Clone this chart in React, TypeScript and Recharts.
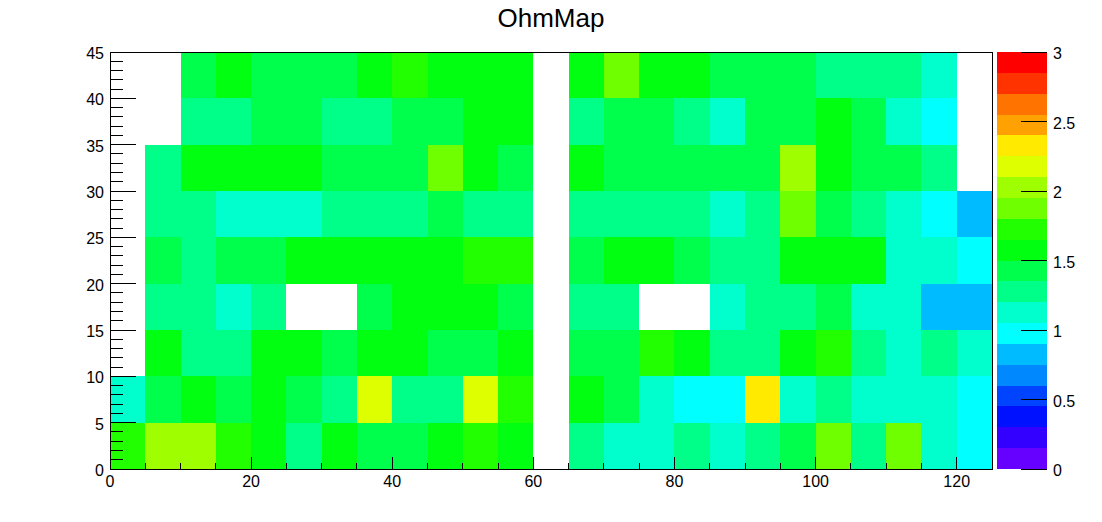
import React from 'react';
import { ScatterChart, Scatter, XAxis, YAxis, ReferenceArea } from 'recharts';

const FONT = '"Liberation Sans", Arial, Helvetica, sans-serif';

// bin low edges (each bin is 5 wide)
const xBins = [0, 5, 10, 15, 20, 25, 30, 35, 40, 45, 50, 55, 60, 65, 70, 75, 80, 85, 90, 95, 100, 105, 110, 115, 120];
const yBins = [0, 5, 10, 15, 20, 25, 30, 35, 40];
const binSize = 5;

// resistance per bin, one row per y bin (bottom row first); null = empty bin
const ohmY0 = [1.72, 2.02, 2.02, 1.72, 1.57, 1.27, 1.57, 1.42, 1.42, 1.57, 1.72, 1.57, null, 1.27, 1.12, 1.12, 1.27, 1.12, 1.27, 1.42, 1.87, 1.27, 1.87, 1.12, 0.97];
const ohmY5 = [1.12, 1.42, 1.57, 1.42, 1.57, 1.42, 1.27, 2.17, 1.27, 1.27, 2.17, 1.72, null, 1.57, 1.42, 1.12, 0.97, 0.97, 2.32, 1.12, 1.27, 1.12, 1.12, 1.12, 0.97];
const ohmY10 = [null, 1.57, 1.27, 1.27, 1.57, 1.57, 1.42, 1.57, 1.57, 1.42, 1.42, 1.57, null, 1.42, 1.42, 1.72, 1.57, 1.27, 1.27, 1.57, 1.72, 1.27, 1.12, 1.27, 1.12];
const ohmY15 = [null, 1.27, 1.27, 1.12, 1.27, null, null, 1.42, 1.57, 1.57, 1.57, 1.42, null, 1.27, 1.27, null, null, 1.12, 1.27, 1.27, 1.42, 1.12, 1.12, 0.82, 0.82];
const ohmY20 = [null, 1.42, 1.27, 1.42, 1.42, 1.57, 1.57, 1.57, 1.57, 1.57, 1.72, 1.72, null, 1.42, 1.57, 1.57, 1.42, 1.27, 1.27, 1.57, 1.57, 1.57, 1.12, 1.12, 0.97];
const ohmY25 = [null, 1.27, 1.27, 1.12, 1.12, 1.12, 1.27, 1.27, 1.27, 1.42, 1.27, 1.27, null, 1.27, 1.27, 1.27, 1.27, 1.12, 1.27, 1.87, 1.42, 1.27, 1.12, 0.97, 0.82];
const ohmY30 = [null, 1.27, 1.57, 1.57, 1.57, 1.57, 1.42, 1.42, 1.42, 1.87, 1.57, 1.42, null, 1.57, 1.42, 1.42, 1.42, 1.42, 1.42, 2.02, 1.57, 1.42, 1.42, 1.27, null];
const ohmY35 = [null, null, 1.27, 1.27, 1.42, 1.42, 1.27, 1.27, 1.42, 1.42, 1.57, 1.57, null, 1.27, 1.42, 1.42, 1.27, 1.12, 1.42, 1.42, 1.57, 1.42, 1.12, 0.97, null];
const ohmY40 = [null, null, 1.42, 1.57, 1.42, 1.42, 1.42, 1.57, 1.72, 1.57, 1.57, 1.57, null, 1.57, 1.87, 1.57, 1.57, 1.42, 1.42, 1.42, 1.27, 1.27, 1.27, 1.12, null];
const ohmRows = [ohmY0, ohmY5, ohmY10, ohmY15, ohmY20, ohmY25, ohmY30, ohmY35, ohmY40];

// colour scale: 20 contour levels from 0 to 3
const zLevels = [0, 0.15, 0.3, 0.45, 0.6, 0.75, 0.9, 1.05, 1.2, 1.35, 1.5, 1.65, 1.8, 1.95, 2.1, 2.25, 2.4, 2.55, 2.7, 2.85, 3.0];
const palette = [
  '#6600ff', '#3300ff', '#0011ff', '#0044ff', '#0088ff', '#00bbff', '#00ffff', '#00ffcc', '#00ff88', '#00ff4c',
  '#00ff11', '#22ff00', '#6fff00', '#9fff00', '#ddff00', '#ffea00', '#ffa100', '#ff7400', '#ff3300', '#ff0000',
];

const xTicks = [0, 5, 10, 15, 20, 25, 30, 35, 40, 45, 50, 55, 60, 65, 70, 75, 80, 85, 90, 95, 100, 105, 110, 115, 120, 125];
const yTicks = [0, 1, 2, 3, 4, 5, 6, 7, 8, 9, 10, 11, 12, 13, 14, 15, 16, 17, 18, 19, 20, 21, 22, 23, 24, 25, 26, 27, 28, 29, 30, 31, 32, 33, 34, 35, 36, 37, 38, 39, 40, 41, 42, 43, 44, 45];
const zTicks = [0, 0.5, 1, 1.5, 2, 2.5, 3];

const colorFor = (v: number) => {
  let k = zLevels.findIndex((lvl, i) => v >= lvl && v < zLevels[i + 1]);
  if (k < 0) k = v >= 3 ? palette.length - 1 : 0;
  return palette[k];
};

const cells = ohmRows.flatMap((row, j) =>
  row
    .map((v, i) => ({ x0: xBins[i], y0: yBins[j], v }))
    .filter((c) => c.v !== null)
    .map((c) => ({ ...c, cx: c.x0 + binSize / 2, cy: c.y0 + binSize / 2 }))
);

const bands = palette.map((col, k) => ({ col, lo: zLevels[k], hi: zLevels[k + 1], x: 0.5, y: (zLevels[k] + zLevels[k + 1]) / 2 }));

const cellShape = (fill: string) => (p: any) => (
  <rect x={p.x} y={p.y} width={p.width} height={p.height} fill={fill} stroke="none" shapeRendering="crispEdges" />
);

const frameShape = (p: any) => (
  <rect x={p.x} y={p.y} width={p.width} height={p.height} fill="none" stroke="#000" strokeWidth={1} shapeRendering="crispEdges" />
);

const XTick = (props: any) => {
  const { x, y, payload } = props;
  const major = payload.value % 20 === 0;
  return (
    <g>
      <line x1={x} y1={y} x2={x} y2={y - (major ? 12 : 6)} stroke="#000" shapeRendering="crispEdges" />
      {major && (
        <text x={x} y={y + 18} textAnchor="middle" fontSize={16} fill="#000" fontFamily={FONT}>
          {payload.value}
        </text>
      )}
    </g>
  );
};

const YTick = (props: any) => {
  const { x, y, payload } = props;
  const major = payload.value % 5 === 0;
  return (
    <g>
      <line x1={x} y1={y} x2={x + (major ? 26 : 13)} y2={y} stroke="#000" shapeRendering="crispEdges" />
      {major && (
        <text x={x - 6} y={y + 7} textAnchor="end" fontSize={16} fill="#000" fontFamily={FONT}>
          {payload.value}
        </text>
      )}
    </g>
  );
};

const ZTick = (props: any) => {
  const { x, y, payload } = props;
  return (
    <g>
      <line x1={x - 26} y1={y} x2={x} y2={y} stroke="#000" shapeRendering="crispEdges" />
      <text x={x + 6} y={y + 7} textAnchor="start" fontSize={16} fill="#000" fontFamily={FONT}>
        {payload.value}
      </text>
    </g>
  );
};

export default function App() {
  return (
    <div style={{ position: 'absolute', left: 0, top: 0, width: 1102, height: 522, background: '#fff', fontFamily: FONT }}>
      <div style={{ position: 'absolute', left: 0, top: 5, width: 1102, textAlign: 'center', fontSize: 26, lineHeight: '26px', color: '#000' }}>
        OhmMap
      </div>

      {/* main 2D histogram */}
      <div style={{ position: 'absolute', left: 0, top: 0 }}>
        <ScatterChart width={1102} height={522} margin={{ top: 52, right: 110, bottom: 0, left: 0 }}>
          {cells.map((c, idx) => (
            <ReferenceArea
              key={idx}
              x1={c.x0}
              x2={c.x0 + binSize}
              y1={c.y0}
              y2={c.y0 + binSize}
              fill={colorFor(c.v as number)}
              fillOpacity={1}
              shape={cellShape(colorFor(c.v as number))}
            />
          ))}
          <Scatter data={cells} dataKey="cy" shape={() => <g />} isAnimationActive={false} />
          <ReferenceArea x1={0} x2={125} y1={0} y2={45} shape={frameShape} />
          <XAxis
            type="number"
            dataKey="cx"
            domain={[0, 125]}
            ticks={xTicks}
            interval={0}
            height={53}
            axisLine={false}
            tickLine={false}
            tickSize={0}
            tickMargin={0}
            tick={<XTick />}
            allowDataOverflow
          />
          <YAxis
            type="number"
            dataKey="cy"
            domain={[0, 45]}
            ticks={yTicks}
            interval={0}
            width={110}
            axisLine={false}
            tickLine={false}
            tickSize={0}
            tickMargin={0}
            tick={<YTick />}
            allowDataOverflow
          />
        </ScatterChart>
      </div>

      {/* colour palette axis */}
      <div style={{ position: 'absolute', left: 997, top: 0 }}>
        <ScatterChart width={105} height={522} margin={{ top: 52, right: 0, bottom: 53, left: 0 }}>
          {bands.map((b, k) => (
            <ReferenceArea
              key={k}
              x1={0}
              x2={1}
              y1={b.lo}
              y2={b.hi}
              fill={b.col}
              fillOpacity={1}
              shape={cellShape(b.col)}
            />
          ))}
          <Scatter data={bands} dataKey="y" shape={() => <g />} isAnimationActive={false} />
          <XAxis type="number" dataKey="x" domain={[0, 1]} hide allowDataOverflow />
          <YAxis
            type="number"
            dataKey="y"
            orientation="right"
            domain={[0, 3]}
            ticks={zTicks}
            interval={0}
            width={55}
            axisLine={false}
            tickLine={false}
            tickSize={0}
            tickMargin={0}
            tick={<ZTick />}
            allowDataOverflow
          />
        </ScatterChart>
      </div>
    </div>
  );
}
